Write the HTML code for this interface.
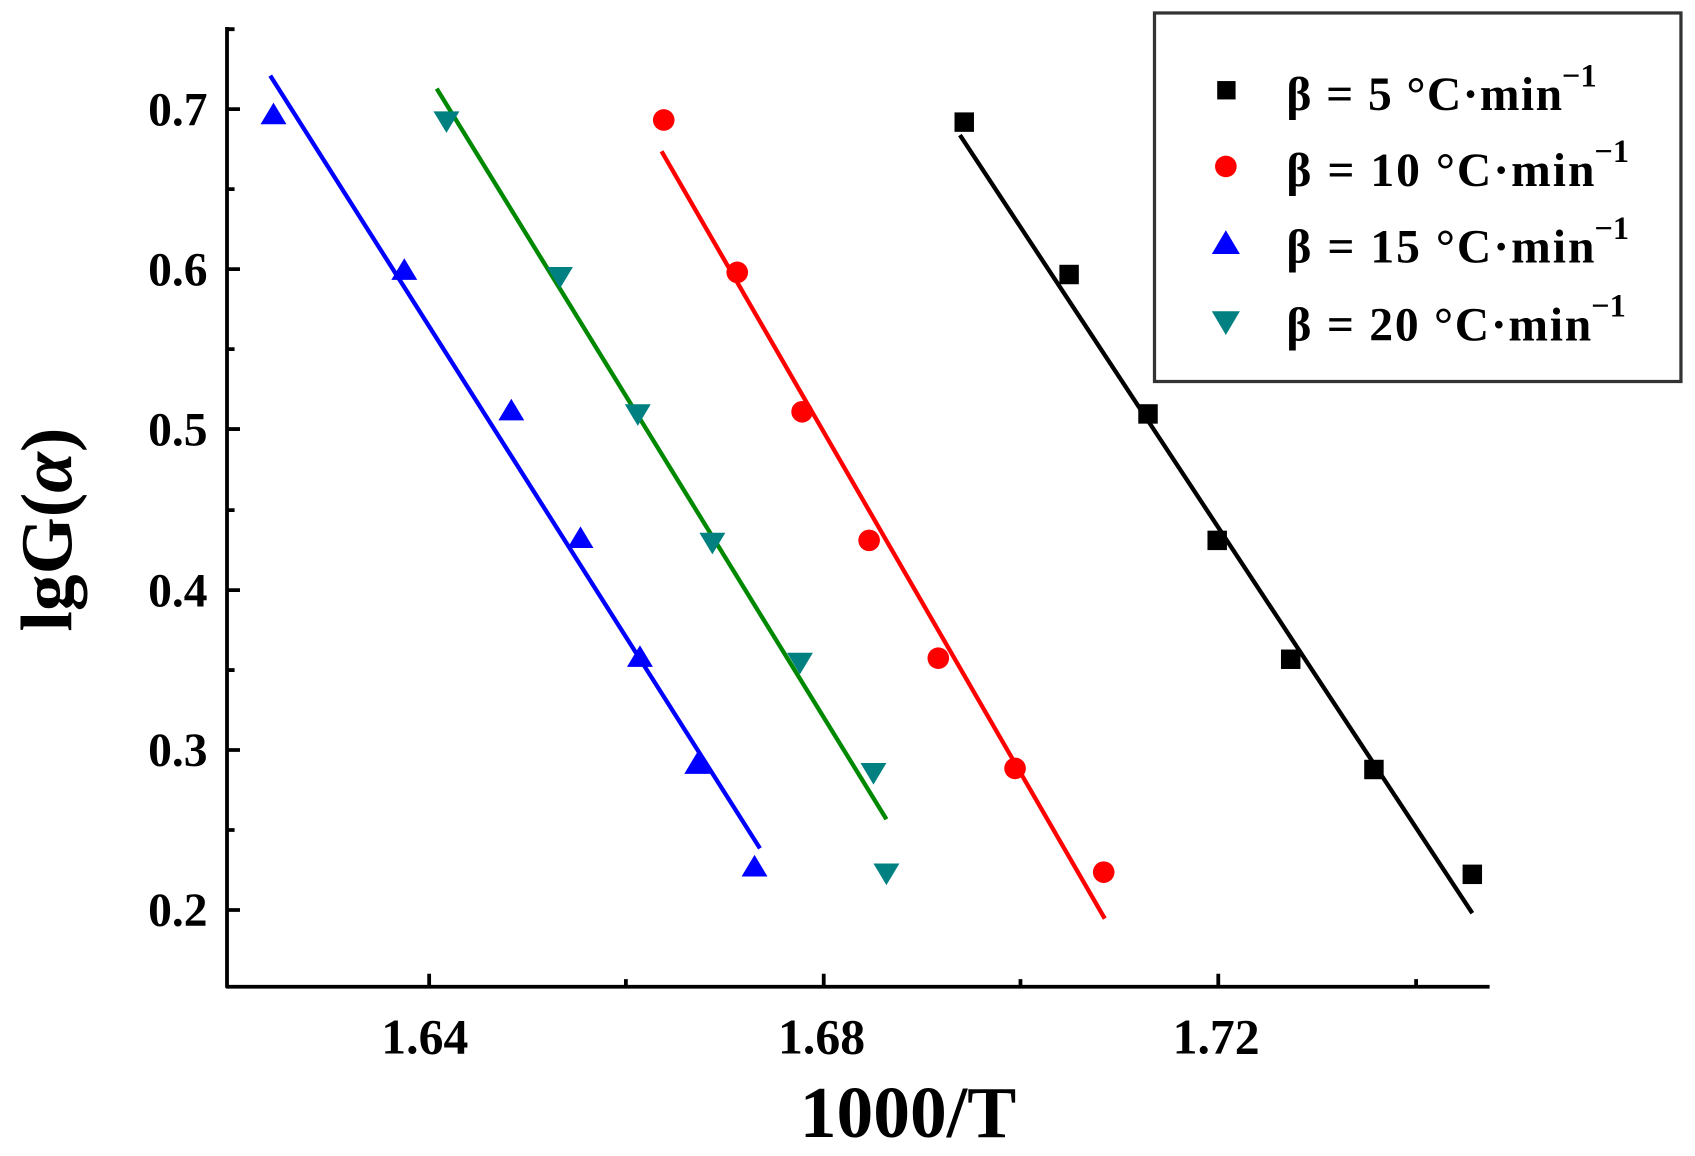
<!DOCTYPE html><html><head><style>html,body{margin:0;padding:0;background:#fff}</style></head><body>
<svg width="1695" height="1151" viewBox="0 0 1568 1065" preserveAspectRatio="none" xmlns="http://www.w3.org/2000/svg" font-family="Liberation Serif, serif" font-weight="bold">
<g stroke="#000" stroke-width="3.5" fill="none">
<line x1="210" y1="25" x2="210" y2="914"/><line x1="209" y1="913" x2="1378" y2="913"/>
<path d="M210 101h12M210 249h12M210 397h12M210 546h12M210 694h12M210 842h12M210 27h7M210 175h7M210 323h7M210 472h7M210 620h7M210 768h7M397 913v-12M762 913v-12M1127 913v-12M579 913v-7M944 913v-7M1310 913v-7"/>
</g>
<g font-size="44" text-anchor="end"><text x="192" y="116">0.7</text><text x="192" y="264">0.6</text><text x="192" y="412">0.5</text><text x="192" y="561">0.4</text><text x="192" y="709">0.3</text><text x="192" y="857">0.2</text></g>
<g font-size="46" text-anchor="middle"><text x="393" y="975">1.64</text><text x="760" y="975">1.68</text><text x="1125" y="975">1.72</text></g>
<text x="840" y="1052" font-size="68" text-anchor="middle">1000/T</text>
<text transform="translate(66,490) rotate(-90)" font-size="68" text-anchor="middle">lgG(<tspan font-style="italic">α</tspan>)</text>
<g stroke-width="4"><line x1="888" y1="125" x2="1362" y2="845" stroke="#000"/><line x1="612" y1="140" x2="1022" y2="850" stroke="#f00"/><line x1="250" y1="70" x2="703" y2="785" stroke="#00f"/><line x1="404" y1="82" x2="820" y2="758" stroke="#080"/></g>
<g fill="#000"><rect x="883" y="104" width="18" height="18"/><rect x="980" y="245" width="18" height="18"/><rect x="1053" y="374" width="18" height="18"/><rect x="1117" y="491" width="18" height="18"/><rect x="1185" y="601" width="18" height="18"/><rect x="1262" y="703" width="18" height="18"/><rect x="1353" y="800" width="18" height="18"/></g>
<g fill="#f00"><circle cx="614" cy="111" r="10"/><circle cx="682" cy="252" r="10"/><circle cx="742" cy="381" r="10"/><circle cx="804" cy="500" r="10"/><circle cx="868" cy="609" r="10"/><circle cx="939" cy="711" r="10"/><circle cx="1021" cy="807" r="10"/></g>
<g fill="#00f"><path d="M253 95l12 20h-24zM374 239l12 20h-24zM473 369l12 20h-24zM537 487l12 20h-24zM592 597l12 20h-24zM645 696l12 20h-24zM698 791l12 20h-24z"/></g>
<g fill="#008080"><path d="M413 123l12-20h-24zM518 267l12-20h-24zM590 394l12-20h-24zM659 513l12-20h-24zM740 624l12-20h-24zM808 726l12-20h-24zM820 819l12-20h-24z"/></g>
<rect x="1068" y="12" width="487" height="341" fill="#fff" stroke="#333" stroke-width="3"/>
<rect x="1126" y="75" width="17" height="17" fill="#000"/><circle cx="1134" cy="154" r="10" fill="#f00"/><path d="M1134 213l13 22h-26z" fill="#00f"/><path d="M1134 310l13-22h-26z" fill="#008080"/>
<g font-size="44"><text x="1190" y="102" textLength="255">β = 5 °C·min</text><text x="1445" y="80" font-size="30">−1</text>
<text x="1190" y="172" textLength="285">β = 10 °C·min</text><text x="1475" y="150" font-size="30">−1</text>
<text x="1190" y="243" textLength="285">β = 15 °C·min</text><text x="1475" y="221" font-size="30">−1</text>
<text x="1190" y="315" textLength="282">β = 20 °C·min</text><text x="1472" y="293" font-size="30">−1</text></g>
</svg></body></html>
